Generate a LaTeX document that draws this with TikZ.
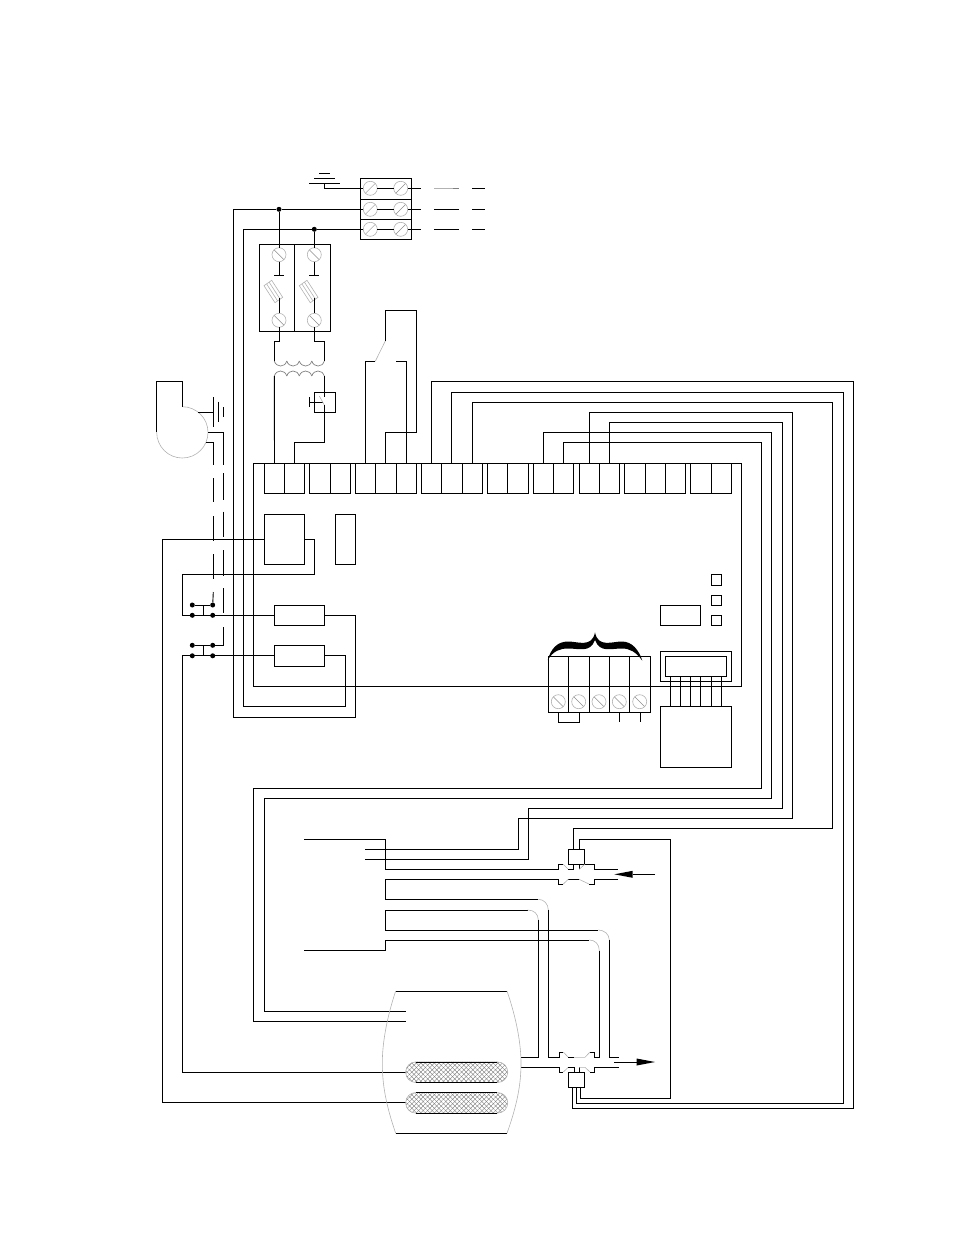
\documentclass[tikz,border=0pt]{standalone}
\usepackage{amsmath}
\usepackage{xcolor}
\usetikzlibrary{patterns.meta}
\tikzset{
	wire/.style={line width=0.9pt, black},
	fine/.style={line width=0.6pt, black!30},
	boxa/.style={draw, line width=0.9pt, rectangle, inner sep=0pt, outer sep=0pt},
	screwb/.style={circle, draw=black!30, line width=0.6pt, inner sep=0pt, outer sep=0pt, minimum size=14pt, path picture={\draw[black!45, line width=0.5pt] (path picture bounding box.north west) -- (path picture bounding box.south east);}},
	screwf/.style={circle, draw=black!30, line width=0.6pt, inner sep=0pt, outer sep=0pt, minimum size=14pt, path picture={\draw[black!45, line width=0.5pt] (path picture bounding box.north east) -- (path picture bounding box.south west);}},
	dota/.style={circle, fill=black, inner sep=0pt, minimum size=5pt},
	heater/.style={rectangle, rounded corners=10pt, draw=black!30, line width=0.6pt, preaction={pattern={Lines[angle=45, distance=3.2pt, line width=0.35pt]}, pattern color=black!55}, pattern={Lines[angle=-45, distance=3.2pt, line width=0.35pt]}, pattern color=black!55, inner sep=0pt, outer sep=0pt, minimum width=102pt, minimum height=20.5pt}
}
\begin{document}
\begin{tikzpicture}[x=1pt, y=-1pt]
	\useasboundingbox (0,0) rectangle (954,1235);
	\node[boxa, minimum width=51pt, minimum height=61pt] (mainblock) at (385.8,208.8) {};
	\draw[wire] (360.3,199.3) -- (411.3,199.3);
	\draw[wire] (360.3,219.3) -- (411.3,219.3);
	\foreach \rowy [count=\n] in {188.3,209.3,229.3} {
		\node[screwf] (sl\n) at (370.3,\rowy) {};
		\node[screwf] (sr\n) at (400.7,\rowy) {};
		\draw[wire] (sl\n) -- (sr\n);
		\draw[wire] (sr\n.east) -- (421,\rowy);
		\draw[wire] (472,\rowy) -- (485,\rowy);
	}
	\draw[fine] (434,188.3) -- (453,188.3);
	\draw[wire, black!50] (453,188.3) -- (458.7,188.3);
	\draw[wire] (434,209.3) -- (458.7,209.3);
	\draw[wire] (434,229.3) -- (458.7,229.3);
	\draw[wire] (319,173) -- (330,173);
	\draw[wire] (314,178.3) -- (335,178.3);
	\draw[wire] (309,183.3) -- (340,183.3);
	\draw[wire] (324.5,183.3) |- (sl1.west);

	\node[boxa, minimum width=35pt, minimum height=87pt] (fuseA) at (276.8,287.8) {};
	\node[boxa, minimum width=36pt, minimum height=87pt] (fuseB) at (312.3,287.8) {};
	\node[dota] (jA) at (279,209.3) {};
	\node[dota] (jB) at (314.3,229.3) {};
	\node[screwb] (ftA) at (279,254.7) {};
	\node[screwb] (ftB) at (314.3,254.7) {};
	\node[screwb] (fbA) at (279,320.3) {};
	\node[screwb] (fbB) at (314.3,320.3) {};
	\draw[wire] (sl2.west) -- (jA) -- (233.3,209.3) -- (233.3,717) -- (355.3,717) -- (355.3,615.3) -- (324.7,615.3);
	\draw[wire] (sl3.west) -- (jB) -- (243.3,229.3) -- (243.3,706.3) -- (345.3,706.3) -- (345.3,655.8) -- (324.7,655.8);
	\draw[wire] (jA) -- (ftA.north);
	\draw[wire] (jB) -- (ftB.north);
	\foreach \dx in {0,35.3} {
		\begin{scope}[xshift=\dx pt]
			\draw[wire] (279,261.7) -- (279,275.3);
			\draw[wire] (274,275.3) -- (284,275.3);
			\draw[fine] (264,285.7) -- (271.7,280.3) -- (282.7,297.3) -- (275,302.7) -- cycle;
			\draw[fine] (266.6,283.9) -- (277.6,300.9);
			\draw[fine] (269.1,282.1) -- (280.1,299.1);
			\draw[wire] (279,298) -- (279,313.3);
		\end{scope}
	}
	\draw[wire] (fbA.south) -- (279,341.7) -- (274.3,341.7) -- (274.3,361);
	\draw[wire] (fbB.south) -- (314.3,341.7) -- (324.3,341.7) -- (324.3,361);
	\foreach \cx in {274.3,286.8,299.3,311.8} {
		\draw[line width=0.7pt, black!50] (\cx,361) .. controls ({\cx+2},367.7) and ({\cx+10.5},367.7) .. ({\cx+12.5},361);
		\draw[line width=0.7pt, black!50] (\cx,376) .. controls ({\cx+2},369.3) and ({\cx+10.5},369.3) .. ({\cx+12.5},376);
	}

	\foreach \xa/\xb [count=\n] in {264.3/284.7,284.7/304.7,309.3/330.3,330.3/350.7,355.3/375.3,375.3/396.3,396.3/416.3,421.3/441.3,441.3/462.3,462.3/482.3,487.3/507.3,507.3/528.3,533.3/553.3,553.3/573.7,579.3/599.3,599.3/619.7,624.3/645.3,645.3/665.3,665.3/685.7,690.3/711.3,711.3/731.7} {
		\node[boxa, minimum width={\xb-\xa}, minimum height=30pt] (term\n) at ({(\xa+\xb)/2},478.3) {};
	}
	\node[boxa, minimum width=488pt, minimum height=223pt] (panel) at (497.3,574.8) {};

	\draw[wire] (274.3,376) -- (term1.north);
	\draw[wire] (324.3,376) -- (324.3,396.7);
	\node[boxa, minimum width=21pt, minimum height=20pt] (tstat) at (324.8,402.3) {};
	\draw[wire] (309.3,397.3) -- (309.3,407.3);
	\draw[wire] (309.3,402.3) -- (322.7,402.3);
	\draw[fine] (319.3,396) -- (324.3,405);
	\draw[wire] (324.3,405) -- (324.3,442.3) -| (term2.north);

	\draw[wire] (term5.north) |- (375.3,361.3);
	\draw[fine] (375.3,361.3) -- (385.3,341);
	\draw[wire] (385.3,341) -- (385.3,310.3) -- (416.3,310.3) -- (416.3,432.3) -| (term6.north);
	\draw[wire] (term7.north) |- (396,361.3);

	\node[boxa, minimum width=40.4pt, minimum height=50pt] (relay) at (284.5,539.3) {};
	\node[boxa, minimum width=20pt, minimum height=50pt] (strip) at (345.3,539.3) {};
	\node[boxa, minimum width=50.4pt, minimum height=20pt] (coilA) at (299.5,615.3) {};
	\node[boxa, minimum width=50.4pt, minimum height=21pt] (coilB) at (299.5,655.8) {};
	\node[dota] (ca1) at (192.3,605) {};
	\node[dota] (ca2) at (212.7,605) {};
	\node[dota] (ca3) at (192.3,615.3) {};
	\node[dota] (ca4) at (212.7,615.3) {};
	\node[dota] (cb1) at (192.3,645.3) {};
	\node[dota] (cb2) at (212.7,645.3) {};
	\node[dota] (cb3) at (192.3,655.8) {};
	\node[dota] (cb4) at (212.7,655.8) {};
	\draw[wire] (ca1) -- (ca2);
	\draw[wire] (cb1) -- (cb2);
	\draw[wire] (203.3,605) -- (203.3,615.3);
	\draw[wire] (203.3,645.3) -- (203.3,655.8);
	\draw[wire] (coilA.west) -- (182.3,615.3) -- (182.3,574.3) -- (314.3,574.3) |- (relay.east);
	\draw[wire] (coilB.west) -- (182.3,655.8) -- (182.3,1072.2) -- (405.7,1072.2);
	\draw[wire] (relay.west) -- (162.3,539.3) -- (162.3,1102.8) -- (405.7,1102.8);

	\draw[fine] (182.3,406.7) .. controls (196.5,406.7) and (208,418.2) .. (208,432.3) .. controls (208,446.5) and (196.5,458) .. (182.3,458) .. controls (168.1,458) and (156.7,446.5) .. (156.7,432.3);
	\draw[wire] (156.7,432.3) -- (156.7,381) -- (182.3,381) -- (182.3,406.7);
	\draw[wire] (198.3,412.7) -- (213.3,412.7);
	\draw[wire] (213.3,397.3) -- (213.3,426.7);
	\draw[wire] (218.3,401.7) -- (218.3,422.3);
	\draw[wire] (223.3,407.3) -- (223.3,416.7);
	\draw[wire] (206,442.3) -- (213.3,442.3) -- (213.3,465);
	\draw[wire] (208,432.3) -- (223.3,432.3) -- (223.3,465);
	\foreach \ya/\yb in {478.3/502.3,516/540.7,554/579} {
		\draw[wire] (213.3,\ya) -- (213.3,\yb);
	}
	\draw[wire] (213.3,592) -- (ca2);
	\foreach \ya/\yb in {473.3/500,511.7/537.3,550/575.7,588.3/613.3} {
		\draw[wire] (223.3,\ya) -- (223.3,\yb);
	}
	\draw[wire] (223.3,627.3) |- (cb2);

	\foreach \sy in {574.7,595.3,615.3} {
		\draw[wire] (711.3,\sy) rectangle (721.7,{\sy+10.4});
	}
	\node[boxa, minimum width=40.4pt, minimum height=20.4pt] (display) at (680.5,615.5) {};
	\node[boxa, minimum width=71.4pt, minimum height=30pt] (plugouter) at (696,666.3) {};
	\node[boxa, minimum width=61.4pt, minimum height=20.4pt] (pluginner) at (696,666.5) {};
	\node[boxa, minimum width=71.4pt, minimum height=61pt] (module) at (696,736.8) {};
	\foreach \px in {670.3,680.3,690.7,700.7,711.3,721.3} {
		\draw[wire] (\px,676.7) -- (\px,706.3);
	}

	\node[boxa, minimum width=102pt, minimum height=56pt] (tblock) at (599.3,684.3) {};
	\foreach \dvx in {568.7,589.3,609.3,629.7} {
		\draw[wire] (\dvx,656.3) -- (\dvx,712.3);
	}
	\foreach \sx [count=\n] in {558.3,578.7,599,619.3,639.7} {
		\node[screwb] (ts\n) at (\sx,701.7) {};
	}
	\draw[wire] (558.3,712.3) -- (558.3,722.3) -- (579,722.3) -- (579,712.3);
	\draw[wire] (619.3,712.3) -- (619.3,722);
	\draw[wire] (640.3,712.3) -- (640.3,722);
	\fill (547.8,660) .. controls (551,648) and (558,641.5) .. (568,641.5) .. controls (578,641.5) and (592,648) .. (595,632.3) .. controls (598,648) and (612,641.5) .. (622,641.5) .. controls (632,641.5) and (639,650) .. (642.3,660.7) .. controls (636,652) and (630,648.5) .. (622,648.5) .. controls (610,648.5) and (600,653) .. (595,640) .. controls (590,653) and (580,648.5) .. (568,648.5) .. controls (560,648.5) and (553,651) .. (547.8,660) -- cycle;

	\node[boxa, minimum width=16.4pt, minimum height=15pt] (sensorA) at (576.5,856.8) {};
	\node[boxa, minimum width=16pt, minimum height=14.6pt] (sensorB) at (576.3,1080) {};
	\draw[wire] (term15.north) |- (792.3,412.3) -- (792.3,818.3) -- (518.3,818.3) -- (518.3,849.3) -- (365,849.3);
	\draw[wire] (term16.north) |- (782.3,422.3) -- (782.3,808.3) -- (528.3,808.3) -- (528.3,859.3) -- (365,859.3);
	\draw[wire] (term13.north) |- (771.7,432.3) -- (771.7,798.3) -- (264,798.3) -- (264,1011.3) -- (405.7,1011.3);
	\draw[wire] (term14.north) |- (761.7,442.3) -- (761.7,788.3) -- (253.7,788.3) -- (253.7,1021.3) -- (405.7,1021.3);
	\draw[wire] (term10.north) |- (832.3,402.3) -- (832.3,828.3) -| ([xshift=-3.2pt]sensorA.north);
	\draw[wire] (term9.north) |- (843.3,392.3) -- (843.3,1103.3) -| (sensorB.south);
	\draw[wire] (term8.north) |- (853.3,381.3) -- (853.3,1108.3) -| ([xshift=-4pt]sensorB.south);
	\draw[wire] ([xshift=4.4pt]sensorB.south) |- (670.5,1098.3) -- (670.5,839.3) -| ([xshift=2.8pt]sensorA.north);

	\draw[wire] (304,839.3) -- (385.7,839.3) -- (385.7,869.3) -- (558.3,869.3) -- (558.3,864.3) -- (563.3,864.3);
	\draw[fine] (563.3,864.3) -- (568.3,869.3);
	\draw[wire] (568.3,869.3) -- (573.3,869.3) -- (573.3,864.3);
	\draw[wire] (579.3,864.3) -- (579.3,869.3);
	\draw[fine] (579.3,869.3) -- (584.7,864.3);
	\draw[wire] (584.7,864.3) -- (594,864.3) -- (594,869.3) -- (618.3,869.3);
	\draw[wire] (618.3,879.3) -- (594,879.3) -- (594,884) -- (589,884);
	\draw[fine] (589,884) -- (579,879.3);
	\draw[wire] (579,879.3) -- (568.3,879.3);
	\draw[fine] (568.3,879.3) -- (563.3,884);
	\draw[wire] (563.3,884) -- (558.3,884) -- (558.3,879.3) -- (385.7,879.3) -- (385.7,899.3) -- (538.3,899.3);
	\draw[fine] (538.3,899.3) .. controls (544,899.3) and (548.3,904) .. (548.3,910);
	\draw[wire] (527.7,910) -- (385.7,910) -- (385.7,930) -- (598.3,930);
	\draw[fine] (527.7,910) .. controls (534,910) and (538.3,914) .. (538.3,920);
	\draw[fine] (598.3,930) .. controls (604,930) and (609.3,934) .. (609.3,940);
	\draw[wire] (304,950.3) -- (385.7,950.3) -- (385.7,940) -- (589.3,940);
	\draw[fine] (589.3,940) .. controls (595,940) and (599.3,944) .. (599.3,950.7);
	\draw[wire] (548.3,910) -- (548.3,1057.3) -- (559,1057.3) -- (559,1052) -- (563.3,1052);
	\draw[wire] (538.3,920) -- (538.3,1057.3) -- (521,1057.3);
	\draw[wire] (609.3,940) -- (609.3,1057.3) -- (618.7,1057.3);
	\draw[wire] (599.3,950.7) -- (599.3,1057.3) -- (594.3,1057.3) -- (594.3,1052) -- (590,1052);
	\draw[fine] (563.3,1052) -- (568.3,1057.3);
	\draw[wire] (568.3,1057.3) -- (574,1057.3);
	\draw[fine] (574,1057.3) -- (585,1057.3) -- (590,1052);
	\draw[wire] (521,1067.3) -- (559,1067.3) -- (559,1072) -- (563.3,1072);
	\draw[fine] (563.3,1072) -- (568.3,1067.3);
	\draw[wire] (568.3,1067.3) -- (574,1067.3) -- (574,1072.7);
	\draw[wire] (579,1072.7) -- (579,1067.3);
	\draw[fine] (579,1067.3) -- (585,1067.3) -- (590,1072);
	\draw[wire] (590,1072) -- (594.3,1072) -- (594.3,1067.3) -- (618.7,1067.3);

	\draw[wire] (655,874.3) -- (632.7,874.3);
	\fill (614.3,874.3) -- (632.7,870.8) -- (632.7,877.8) -- cycle;
	\draw[wire] (614,1062) -- (636.7,1062);
	\fill (655,1062) -- (636.7,1058.5) -- (636.7,1065.5) -- cycle;

	\draw[wire] (395.7,991) -- (507,991);
	\draw[wire] (395.7,1133.3) -- (507,1133.3);
	\draw[fine] (395.7,991) .. controls (386,1020) and (382.3,1045) .. (382.3,1063) .. controls (382.3,1085) and (386,1105) .. (395.7,1133.3);
	\draw[fine] (507,991) .. controls (517,1020) and (521,1045) .. (521,1063) .. controls (521,1085) and (517,1105) .. (507,1133.3);
	\node[heater] (htrA) at (456.7,1072.2) {};
	\node[heater] (htrB) at (456.7,1102.8) {};
	\foreach \hy in {1062,1082.4,1092.5,1113} {
		\draw[wire] (415.7,\hy) -- (497.3,\hy);
	}
\end{tikzpicture}
\end{document}
